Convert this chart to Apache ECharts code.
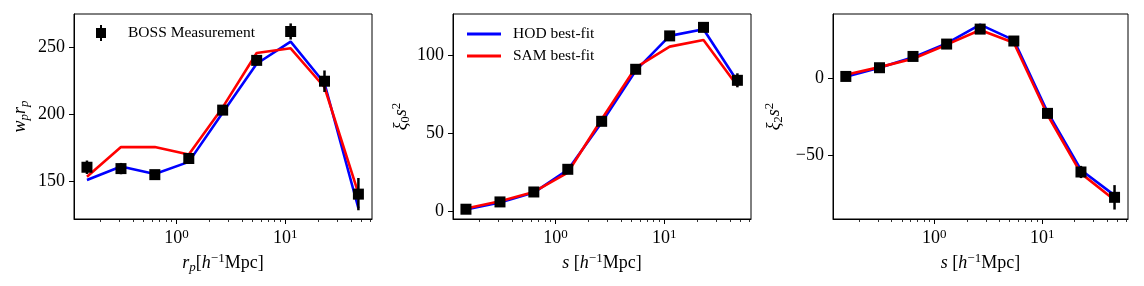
<!DOCTYPE html>
<html><head><meta charset="utf-8">
<script src="https://cdn.jsdelivr.net/npm/echarts@6/dist/echarts.min.js"></script>
<style>html,body{margin:0;padding:0;background:#fff}#c{width:1144px;height:286px}</style>
</head><body><div id="c"></div>
<script>
// ---- data ----
const rBins = [0.151, 0.310, 0.634, 1.30, 2.66, 5.46, 11.2, 22.9, 46.9];

const wpBoss    = [160.5, 159.5, 155, 167, 203, 240, 261.5, 224.5, 140.5];
const wpBossErr = [5, 4.2, 3, 3, 3, 3, 6, 8, 12];
const wpHod     = [151, 161, 155.5, 164.5, 201, 237.5, 254, 223, 130];
const wpSam     = [153.5, 175.5, 175.5, 170, 205, 245.5, 249, 220, 141];

const xi0Boss    = [1.1, 5.8, 12.2, 26.8, 57.7, 91.2, 112.7, 118.2, 84.1];
const xi0BossErr = [1, 1, 1, 1.5, 2, 2, 2.5, 3, 4.5];
const xi0Hod     = [1, 5.4, 11.8, 26.4, 56.9, 90.3, 112.7, 117, 83.5];
const xi0Sam     = [1.5, 6.2, 12.2, 24.7, 59, 92.3, 105.8, 110, 80.5];

const xi2Boss    = [1.5, 7.2, 14.6, 22.7, 32.5, 24.7, -22.7, -61.1, -77.7];
const xi2BossErr = [1, 1, 1.5, 1.5, 2, 2, 2.5, 4, 8];
const xi2Hod     = [1.3, 7.2, 14, 23.1, 35.4, 25.3, -21.8, -59.8, -76.4];
const xi2Sam     = [2.6, 7.6, 13.1, 22.3, 31.9, 23.6, -23.6, -62, -79.5];

const xMajorTicks = [1, 10];
const xMinorTicks = [0.2,0.3,0.4,0.5,0.6,0.7,0.8,0.9,2,3,4,5,6,7,8,9,20,30,40,50,60];
const wpTicks  = [150, 200, 250];
const xi0Ticks = [0, 50, 100];
const xi2Ticks = [-50, 0];

// ---- layout ----
const F = 'Liberation Serif';
const XMIN = -0.94, XMAX = 1.796;
const grids = [
  {left: 74,  top: 14, width: 298, height: 205},
  {left: 453, top: 14, width: 298, height: 205},
  {left: 833, top: 14, width: 295, height: 205}
];
const yRanges = [[122, 274.5], [-5.2, 126.8], [-91.9, 42.4]];
const yTickSets = [wpTicks, xi0Ticks, xi2Ticks];
const yNames = ['{i|w}{sub|p}{i|r}{sub|p}', '{i|ξ}{subn|0}{i|s}{sup|2}', '{i|ξ}{subn|2}{i|s}{sup|2}'];
const yNameGaps = [43, 41, 48];
const xNames = ['{i|r}{sub|p}{n|[}{i|h}{sup|\u22121}{n|Mpc]}',
                '{i|s}{n| [}{i|h}{sup|\u22121}{n|Mpc]}',
                '{i|s}{n| [}{i|h}{sup|\u22121}{n|Mpc]}'];
const panels = [
  {boss: wpBoss, err: wpBossErr, hod: wpHod, sam: wpSam},
  {boss: xi0Boss, err: xi0BossErr, hod: xi0Hod, sam: xi0Sam},
  {boss: xi2Boss, err: xi2BossErr, hod: xi2Hod, sam: xi2Sam}
];

const nameRich = {
  i:    {fontFamily: F, fontStyle: 'italic', fontSize: 18, lineHeight: 22, color: '#000'},
  n:    {fontFamily: F, fontSize: 18, lineHeight: 22, color: '#000'},
  sub:  {fontFamily: F, fontStyle: 'italic', fontSize: 13, lineHeight: 12, verticalAlign: 'bottom', color: '#000'},
  subn: {fontFamily: F, fontSize: 13, lineHeight: 12, verticalAlign: 'bottom', color: '#000'},
  sup:  {fontFamily: F, fontSize: 13, lineHeight: 12, verticalAlign: 'top', color: '#000'}
};
const lg = v => Math.log10(v);
const fmtNum = v => v < 0 ? '\u2212' + Math.abs(v) : String(v);

const xAxis = [], yAxis = [], series = [];
grids.forEach((g, p) => {
  xAxis.push({
    type: 'value', gridIndex: p, min: XMIN, max: XMAX, position: 'bottom',
    name: xNames[p], nameLocation: 'middle', nameGap: 31,
    nameTextStyle: {rich: nameRich},
    axisLine: {show: true, onZero: false, lineStyle: {color: '#000', width: 1}},
    axisTick: {show: true, length: 5, lineStyle: {color: '#000', width: 1}, customValues: xMajorTicks.map(lg)},
    axisLabel: {
      customValues: xMajorTicks.map(lg), margin: 9,
      formatter: v => '{b|10}{s|' + Math.round(v) + '}',
      rich: {
        b: {fontFamily: F, fontSize: 18, lineHeight: 20, color: '#000'},
        s: {fontFamily: F, fontSize: 13, lineHeight: 13, verticalAlign: 'top', color: '#000'}
      }
    },
    splitLine: {show: false}
  });
  xAxis.push({
    type: 'value', gridIndex: p, min: XMIN, max: XMAX, position: 'bottom',
    axisLine: {show: false, onZero: false},
    axisTick: {show: true, length: 3, lineStyle: {color: '#000', width: 0.8}, customValues: xMinorTicks.map(lg)},
    axisLabel: {show: false},
    splitLine: {show: false}
  });
  yAxis.push({
    type: 'value', gridIndex: p, min: yRanges[p][0], max: yRanges[p][1],
    name: yNames[p], nameLocation: 'middle', nameGap: yNameGaps[p], nameRotate: 90,
    nameTextStyle: {rich: nameRich},
    axisLine: {show: true, onZero: false, lineStyle: {color: '#000', width: 1}},
    axisTick: {show: true, length: 5, lineStyle: {color: '#000', width: 1}, customValues: yTickSets[p]},
    axisLabel: {customValues: yTickSets[p], margin: 9, formatter: fmtNum,
      fontFamily: F, fontSize: 18, color: '#000'},
    splitLine: {show: false}
  });
  const d = panels[p];
  series.push({
    name: 'HOD best-fit', type: 'line', xAxisIndex: 2 * p, yAxisIndex: p,
    data: rBins.map((r, k) => [lg(r), d.hod[k]]),
    color: '#0000ff', showSymbol: false, symbol: 'none',
    lineStyle: {color: '#0000ff', width: 2.6}, z: 2
  });
  series.push({
    name: 'SAM best-fit', type: 'line', xAxisIndex: 2 * p, yAxisIndex: p,
    data: rBins.map((r, k) => [lg(r), d.sam[k]]),
    color: '#ff0000', showSymbol: false, symbol: 'none',
    lineStyle: {color: '#ff0000', width: 2.6}, z: 3
  });
  series.push({
    name: 'BOSS error', type: 'custom', xAxisIndex: 2 * p, yAxisIndex: p,
    data: rBins.map((r, k) => [lg(r), d.boss[k], d.err[k]]),
    encode: {x: 0, y: 1},
    renderItem: (params, api) => {
      const x = api.value(0), y = api.value(1), e = api.value(2);
      const a = api.coord([x, y - e]), b = api.coord([x, y + e]);
      return {type: 'line', shape: {x1: a[0], y1: a[1], x2: b[0], y2: b[1]},
        style: {stroke: '#000', lineWidth: 2.5}};
    },
    z: 4
  });
  series.push({
    name: 'BOSS Measurement', type: 'scatter', xAxisIndex: 2 * p, yAxisIndex: p,
    data: rBins.map((r, k) => [lg(r), d.boss[k]]),
    symbol: 'rect', symbolSize: 11, color: '#000', itemStyle: {color: '#000', opacity: 1}, z: 5
  });
});

const chart = echarts.init(document.getElementById('c'), null, {renderer: 'canvas'});
chart.setOption({
  animation: false,
  backgroundColor: '#fff',
  grid: grids.map(g => Object.assign({show: true, borderColor: '#000', borderWidth: 1, backgroundColor: 'transparent'}, g)),
  legend: [
    {
      data: [{name: 'BOSS Measurement', icon: 'path://M4,0L6,0L6,3L10,3L10,13L6,13L6,16L4,16L4,13L0,13L0,3L4,3Z'}],
      left: 91, top: 20, itemWidth: 10, itemHeight: 16, selectedMode: false,
      itemStyle: {opacity: 1},
      textStyle: {fontFamily: F, fontSize: 15.5, color: '#000', lineHeight: 16, padding: [0, 0, 0, 17]}
    },
    {
      data: ['HOD best-fit', 'SAM best-fit'], orient: 'vertical',
      left: 462, top: 21, itemWidth: 34, itemHeight: 3, itemGap: 6, icon: 'rect', selectedMode: false,
      textStyle: {fontFamily: F, fontSize: 15.5, color: '#000', lineHeight: 16, padding: [0, 0, 0, 7]}
    }
  ],
  xAxis: xAxis,
  yAxis: yAxis,
  series: series
});
</script></body></html>
